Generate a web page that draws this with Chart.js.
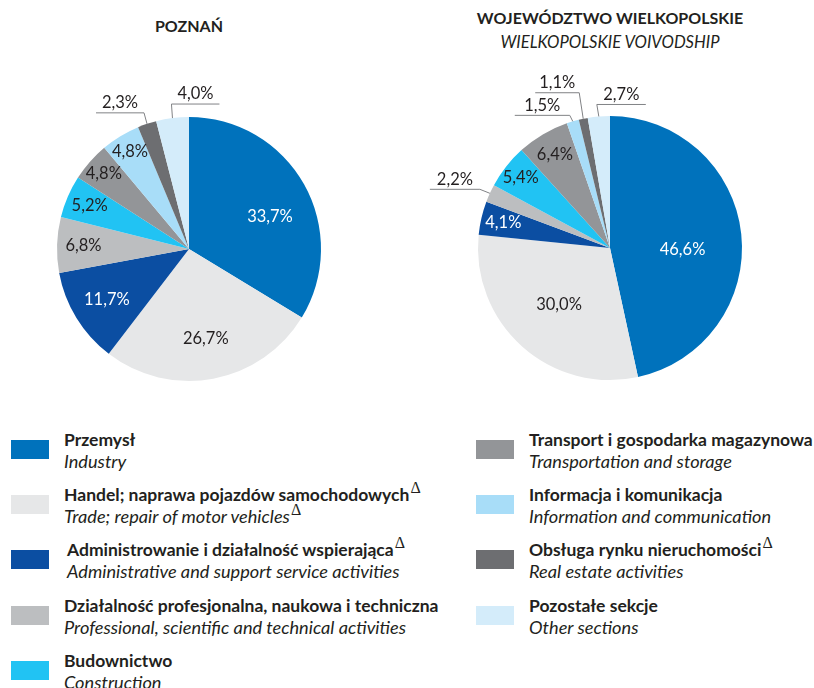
<!DOCTYPE html>
<html lang="pl">
<head>
<meta charset="utf-8">
<title>Struktura - Poznań i województwo wielkopolskie</title>
<script src="https://cdn.jsdelivr.net/npm/chart.js@4/dist/chart.umd.min.js"></script>
<style>
    html, body {
        margin: 0;
        padding: 0;
        background: #ffffff;
    }
    body {
        position: relative;
        width: 814px;
        height: 688px;
        overflow: hidden;
        font-family: Lato, "Open Sans", sans-serif;
        color: #231f20;
    }
    .title {
        position: absolute;
        text-align: center;
        font-size: 16px;
        line-height: 24px;
        white-space: nowrap;
    }
    .title b { font-weight: 700; }
    .title i { font-weight: 400; font-size: 16.6px; }
    .chart-box {
        position: absolute;
        top: 60px;
        width: 407px;
        height: 360px;
    }
    .legend-item {
        position: absolute;
        white-space: nowrap;
    }
    .legend-item .swatch {
        position: absolute;
        left: 0;
        top: 0;
        width: 38px;
        height: 19px;
    }
    .legend-item .pl {
        position: absolute;
        top: -12px;
        font-size: 17.5px;
        font-weight: 700;
        line-height: 24px;
    }
    .legend-item .en {
        position: absolute;
        top: 9px;
        font-size: 18.2px;
        font-style: italic;
        line-height: 24px;
    }
    .delta {
        font-family: "Liberation Serif", serif;
        font-weight: 400;
        font-style: normal;
        font-size: 16px;
        position: relative;
        top: -8px;
        margin-left: 1px;
    }
</style>
</head>
<body>

<div class="title" style="left: 89px; top: 14px; width: 200px;"><b>POZNAŃ</b></div>
<div class="title" style="left: 460px; top: 6px; width: 300px;"><b>WOJEWÓDZTWO WIELKOPOLSKIE</b><br><i>WIELKOPOLSKIE VOIVODSHIP</i></div>

<div class="chart-box" style="left: 0;"><canvas id="poznan"></canvas></div>
<div class="chart-box" style="left: 407px;"><canvas id="wielkopolskie"></canvas></div>

<div id="legend"></div>

<script>
// Sekcje PKD (kolejność jak na wykresie)
const categoriesPl = [
    'Przemysł',
    'Handel; naprawa pojazdów samochodowych',
    'Administrowanie i działalność wspierająca',
    'Działalność profesjonalna, naukowa i techniczna',
    'Budownictwo',
    'Transport i gospodarka magazynowa',
    'Informacja i komunikacja',
    'Obsługa rynku nieruchomości',
    'Pozostałe sekcje'
];
const categoriesEn = [
    'Industry',
    'Trade; repair of motor vehicles',
    'Administrative and support service activities',
    'Professional, scientific and technical activities',
    'Construction',
    'Transportation and storage',
    'Information and communication',
    'Real estate activities',
    'Other sections'
];
const deltaPl = [false, true, true, false, false, false, false, true, false];
const deltaEn = [false, true, false, false, false, false, false, false, false];

// Udział w %
const poznanValues = [33.7, 26.7, 11.7, 6.8, 5.2, 4.8, 4.8, 2.3, 4.0];
const wielkopolskieValues = [46.6, 30.0, 4.1, 2.2, 5.4, 6.4, 1.5, 1.1, 2.7];

const sliceColors = [
    '#0072bc', '#e6e7e8', '#0b4ea2', '#bcbec0', '#21c3f3',
    '#939598', '#a8ddf8', '#6d6e71', '#d4ecfa'
];
const lightText = [true, false, true, false, false, false, false, false, false];

function formatPct(v) {
    return v.toFixed(1).replace('.', ',') + '%';
}

// Etykiety wartości: wewnątrz wycinka albo z linią odniesienia
const sliceLabels = {
    id: 'sliceLabels',
    afterDatasetsDraw(chart, args, opts) {
        const ctx = chart.ctx;
        const values = chart.data.datasets[0].data;
        const meta = chart.getDatasetMeta(0);
        ctx.save();
        ctx.font = '16.5px Lato, "Open Sans", sans-serif';
        ctx.textAlign = 'center';
        ctx.textBaseline = 'middle';
        meta.data.forEach((arc, i) => {
            const p = arc.getProps(['x', 'y', 'startAngle', 'endAngle', 'outerRadius'], true);
            const mid = (p.startAngle + p.endAngle) / 2;
            const text = formatPct(values[i]);
            const callout = opts.callouts[i];
            if (callout) {
                const ex = p.x + Math.cos(mid) * p.outerRadius;
                const ey = p.y + Math.sin(mid) * p.outerRadius;
                const bx = ex + callout.dx;
                const by = ey + callout.dy;
                ctx.strokeStyle = '#808285';
                ctx.lineWidth = 1;
                ctx.beginPath();
                ctx.moveTo(ex, ey);
                ctx.lineTo(bx, by);
                ctx.lineTo(bx + callout.len, by);
                ctx.stroke();
                ctx.fillStyle = '#231f20';
                ctx.fillText(text, bx + callout.len / 2, by - 10);
            } else {
                const a = mid + (opts.shift[i] || 0) * Math.PI / 180;
                const r = p.outerRadius * opts.radii[i];
                ctx.fillStyle = lightText[i] ? '#ffffff' : '#231f20';
                ctx.fillText(text, p.x + Math.cos(a) * r, p.y + Math.sin(a) * r);
            }
        });
        ctx.restore();
    }
};

function makePie(id, values, padding, labelOpts) {
    return new Chart(document.getElementById(id), {
        type: 'pie',
        data: {
            labels: categoriesPl,
            datasets: [{
                data: values,
                backgroundColor: sliceColors,
                borderWidth: 0
            }]
        },
        options: {
            responsive: true,
            maintainAspectRatio: false,
            animation: false,
            layout: { padding: padding },
            plugins: {
                legend: { display: false },
                tooltip: { enabled: false },
                sliceLabels: labelOpts
            }
        },
        plugins: [sliceLabels]
    });
}

makePie('poznan', poznanValues,
    { left: 57, right: 86, top: 57, bottom: 39 },
    {
        radii: [0.66, 0.69, 0.73, 0.80, 0.82, 0.86, 0.86, 0, 0],
        shift: [7.7, 0, 0, 0, 0, 0, 0, 0, 0],
        callouts: {
            7: { dx: -3, dy: -11, len: -48 },
            8: { dx: -1, dy: -14, len: 48 }
        }
    });

makePie('wielkopolskie', wielkopolskieValues,
    { left: 71, right: 72, top: 56, bottom: 40 },
    {
        radii: [0.55, 0.58, 0.83, 0, 0.86, 0.82, 0, 0, 0],
        shift: [7.7, 0, 0, 0, 0, 0, 0, 0, 0],
        callouts: {
            3: { dx: -10, dy: -4, len: -50 },
            6: { dx: -3, dy: -6, len: -55 },
            7: { dx: -4, dy: -26, len: -44 },
            8: { dx: -2, dy: -12, len: 49 }
        }
    });

// Legenda: dwie kolumny
const legend = document.getElementById('legend');
const legendRows = [440, 495, 550, 606, 661];
categoriesPl.forEach((name, i) => {
    const col = i < 5 ? 0 : 1;
    const row = i < 5 ? i : i - 5;
    const item = document.createElement('div');
    item.className = 'legend-item';
    item.style.left = (col === 0 ? 11 : 476) + 'px';
    item.style.top = legendRows[row] + 'px';
    const textLeft = col === 0 ? (i === 2 ? 56 : 53) : 53;
    item.innerHTML =
        '<div class="swatch" style="background:' + sliceColors[i] + '"></div>' +
        '<div class="pl" style="left:' + textLeft + 'px">' + name +
        (deltaPl[i] ? '<span class="delta">Δ</span>' : '') + '</div>' +
        '<div class="en" style="left:' + textLeft + 'px">' + categoriesEn[i] +
        (deltaEn[i] ? '<span class="delta">Δ</span>' : '') + '</div>';
    legend.appendChild(item);
});
</script>
</body>
</html>
